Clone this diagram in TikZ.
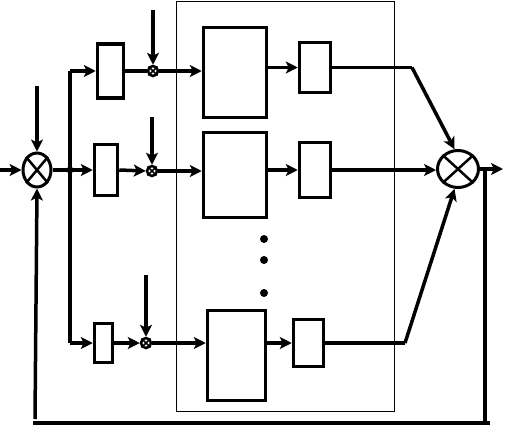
\documentclass[tikz,border=0pt]{standalone}
\usetikzlibrary{shapes.geometric,arrows.meta}
\begin{document}
\begin{tikzpicture}[x=1pt,y=-1pt,
  wire/.style={line width=3.5pt},
  arr/.style={wire,-{Stealth[length=12pt,width=12pt,inset=3pt]}},
  blk/.style={draw,line width=3.5pt,rectangle,inner sep=0pt},
  sumbig/.style={draw,line width=3pt,ellipse,inner sep=0pt},
  sumsm/.style={draw,line width=2.5pt,circle,inner sep=0pt,minimum size=10pt},
  dotn/.style={fill,circle,inner sep=0pt,minimum size=8pt}]
\useasboundingbox (0,0) rectangle (505,426);
% container
\node[draw,line width=1pt,rectangle,inner sep=0pt,minimum width=218pt,minimum height=410pt] (cont) at (285,206) {};
% summers
\node[sumbig,minimum width=28pt,minimum height=34pt] (s0) at (37,170) {};
\node[sumbig,minimum width=41pt,minimum height=37pt] (sb) at (458,169) {};
\node[sumsm] (s1) at (153,71) {};
\node[sumsm] (s2) at (152,171) {};
\node[sumsm] (s3) at (146,343) {};
\foreach \s in {s0,sb}{\draw[line width=2.5pt] (\s.north east) -- (\s.south west) (\s.north west) -- (\s.south east);}
\foreach \s in {s1,s2,s3}{\draw[line width=1.5pt] (\s.north east) -- (\s.south west) (\s.north west) -- (\s.south east);}
% boxes
\node[blk,minimum width=26pt,minimum height=54pt] (b1) at (110.5,71) {};
\node[blk,minimum width=23pt,minimum height=51pt] (b2) at (106,170) {};
\node[blk,minimum width=18pt,minimum height=39pt] (b3) at (103.5,343) {};
\node[blk,minimum width=63pt,minimum height=90pt] (a1) at (235,72.5) {};
\node[blk,minimum width=63pt,minimum height=85pt] (a2) at (235,175) {};
\node[blk,minimum width=58pt,minimum height=90pt] (a3) at (236.5,355.5) {};
\node[blk,minimum width=31pt,minimum height=50pt] (c1) at (315,67.5) {};
\node[blk,minimum width=31pt,minimum height=55pt] (c2) at (315,170) {};
\node[blk,minimum width=30pt,minimum height=47pt] (c3) at (308.5,343) {};
% dots
\node[dotn] (d1) at (264,239) {};
\node[dotn] (d2) at (264,260) {};
\node[dotn] (d3) at (264,293) {};
% coordinates
\coordinate (in0) at (0,170);
\coordinate (top0) at (37,86);
\coordinate (j) at (70,170);
\coordinate (jt) at (70,71);
\coordinate (jb) at (70,343);
\coordinate (in1) at (153,10);
\coordinate (in2) at (152,117);
\coordinate (in3) at (146,275);
\coordinate (k1) at (412,67.5);
\coordinate (k3) at (405,343);
\coordinate (out) at (503,169);
\coordinate (fr) at (485,169);
\coordinate (frb) at (485,423);
\coordinate (fre) at (490,423);
\coordinate (flb) at (33,423);
\coordinate (flv) at (35,419);
% input summer
\draw[arr] (in0) -- (s0.west);
\draw[arr] (top0) -- (s0.north);
\draw[wire] (s0.east) -- (j);
\node[fill,circle,inner sep=0pt,minimum size=7pt] at (j) {};
\draw[arr] (j) -- (b2.west);
\draw[wire] (jt) -- (jb);
\draw[arr] (jt) -- (b1.west);
\draw[arr] (jb) -- (b3.west);
% row 1
\draw[wire] (b1.east) -- (s1.west);
\draw[arr] (in1) -- (s1.north);
\draw[arr] (s1.east) -- (s1 -| a1.west);
\draw[arr] (a1.east |- c1) -- (c1.west);
\draw[wire] (c1.east) -- (k1);
\draw[arr] (k1) -- (sb.100);
% row 2
\draw[arr] (b2.east) -- (s2.west);
\draw[arr] (in2) -- (s2.north);
\draw[arr] (s2.east) -- (s2 -| a2.west);
\draw[arr] (a2.east |- c2) -- (c2.west);
\draw[arr] (c2.east) -- (c2 -| sb.west);
% row 3
\draw[arr] (b3.east) -- (s3.west);
\draw[arr] (in3) -- (s3.north);
\draw[arr] (s3.east) -- (s3 -| a3.west);
\draw[arr] (a3.east |- c3) -- (c3.west);
\draw[wire] (c3.east) -- (k3);
\draw[arr] (k3) -- (sb.260);
% output and feedback
\draw[arr] (sb.east) -- (out);
\draw[wire] (fr) -- (frb);
\draw[wire] (fre) -- (flb);
\draw[arr] (flv) -- (s0.south);
\end{tikzpicture}
\end{document}
